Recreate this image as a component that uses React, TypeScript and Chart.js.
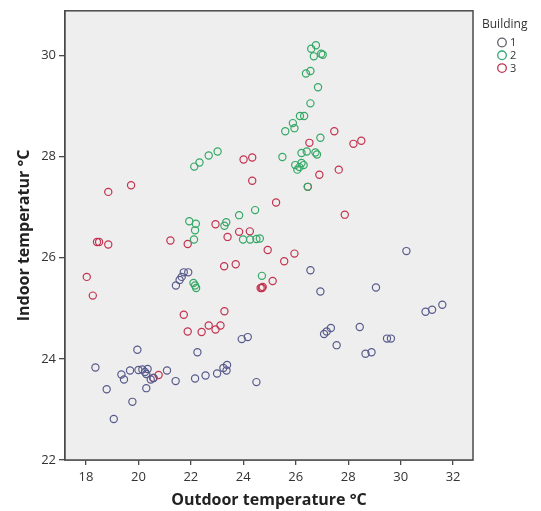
import React, { useEffect, useRef } from "react";
import { Chart, registerables } from "chart.js";

Chart.register(...registerables);

// Building 1
const building1X = [
  21.73, 21.65, 21.57, 21.43, 21.9, 26.56, 26.94, 30.22, 29.06, 31.59, 31.2, 30.95,
  28.44, 27.34, 27.18, 27.08, 27.56, 28.66, 28.89, 29.48, 29.63, 23.94, 24.17, 22.25,
  24.5, 22.16, 22.56, 23.0, 23.24, 23.38, 23.36, 21.42, 21.09, 19.96, 18.36, 19.35,
  19.45, 19.68, 20.0, 20.15, 20.25, 20.35, 20.3, 18.79, 19.77, 19.06, 20.3, 20.47, 20.58,
];
const building1Y = [
  25.71, 25.62, 25.56, 25.45, 25.71, 25.75, 25.33, 26.13, 25.41, 25.07, 24.97, 24.93,
  24.63, 24.61, 24.54, 24.49, 24.27, 24.1, 24.13, 24.4, 24.4, 24.39, 24.43, 24.13,
  23.54, 23.61, 23.67, 23.71, 23.82, 23.88, 23.77, 23.56, 23.77, 24.18, 23.83, 23.69,
  23.59, 23.77, 23.78, 23.79, 23.74, 23.8, 23.7, 23.4, 23.15, 22.81, 23.42, 23.59, 23.62,
];

// Building 2
const building2X = [
  26.59, 26.77, 26.69, 26.97, 27.03, 26.39, 26.56, 26.85, 26.56, 26.16, 26.32, 25.89,
  25.95, 25.6, 26.94, 25.49, 26.22, 26.42, 26.75, 26.81, 25.98, 26.06, 26.22, 26.3,
  26.14, 26.46, 22.13, 22.33, 22.68, 23.02, 21.94, 22.19, 22.16, 22.12, 23.28, 23.35,
  23.84, 24.45, 23.99, 24.26, 24.5, 24.63, 22.1, 22.16, 22.2, 24.71,
];
const building2Y = [
  30.13, 30.2, 29.98, 30.03, 30.01, 29.64, 29.69, 29.37, 29.05, 28.8, 28.8, 28.66,
  28.56, 28.5, 28.37, 27.99, 28.07, 28.1, 28.08, 28.04, 27.83, 27.74, 27.87, 27.83,
  27.79, 27.4, 27.8, 27.88, 28.02, 28.1, 26.72, 26.67, 26.54, 26.36, 26.63, 26.7,
  26.84, 26.94, 26.36, 26.36, 26.37, 26.38, 25.5, 25.45, 25.4, 25.64,
];

// Building 3
const building3X = [
  18.85, 19.72, 18.42, 18.5, 18.85, 18.03, 18.26, 21.22, 21.88, 22.94, 23.4, 23.84,
  24.25, 24.01, 24.34, 24.34, 25.25, 24.93, 25.95, 25.56, 23.27, 23.71, 25.12, 24.66,
  24.71, 24.74, 21.73, 23.28, 21.88, 22.41, 22.68, 22.94, 23.13, 20.56, 20.77, 27.47,
  28.2, 28.5, 26.52, 26.9, 27.64, 26.46, 27.87,
];
const building3Y = [
  27.3, 27.43, 26.31, 26.31, 26.26, 25.62, 25.25, 26.34, 26.27, 26.66, 26.41, 26.51,
  26.52, 27.94, 27.98, 27.52, 27.09, 26.15, 26.08, 25.93, 25.83, 25.87, 25.54, 25.4,
  25.4, 25.42, 24.87, 24.94, 24.54, 24.53, 24.66, 24.58, 24.66, 23.62, 23.68, 28.5,
  28.25, 28.31, 28.27, 27.64, 27.74, 27.4, 26.85,
];

const seriesLabels = ["1", "2", "3"];
const seriesColors = ["#585b8c", "#35a866", "#c4324f"];
const legendColors = ["#5f6068", "#35a875", "#c4324f"];
const xTicks = [18, 20, 22, 24, 26, 28, 30, 32];
const yTicks = [22, 24, 26, 28, 30];
const legendTitle = "Building";

const toPoints = (xs: number[], ys: number[]) => xs.map((x, i) => ({ x, y: ys[i] }));

const framePlugin = {
  id: "frame",
  beforeDatasetsDraw(chart: any) {
    const { ctx, chartArea } = chart;
    ctx.save();
    ctx.fillStyle = "#eeeeee";
    ctx.fillRect(chartArea.left, chartArea.top, chartArea.right - chartArea.left, chartArea.bottom - chartArea.top);
    ctx.restore();
  },
  afterDatasetsDraw(chart: any) {
    const { ctx, chartArea } = chart;
    ctx.save();
    ctx.strokeStyle = "#4a4a4a";
    ctx.lineWidth = 1.5;
    ctx.strokeRect(chartArea.left, chartArea.top, chartArea.right - chartArea.left, chartArea.bottom - chartArea.top);
    ctx.restore();
  },
  afterDraw(chart: any) {
    const { ctx, chartArea } = chart;
    const x0 = chartArea.right + 9;
    ctx.save();
    ctx.font = "12px 'Open Sans', sans-serif";
    ctx.fillStyle = "#333333";
    ctx.textAlign = "left";
    ctx.textBaseline = "middle";
    ctx.fillText(legendTitle, x0, 25);
    chart.data.datasets.forEach((ds: any, i: number) => {
      const y = 42.5 + i * 12.8;
      ctx.beginPath();
      ctx.strokeStyle = legendColors[i];
      ctx.lineWidth = 1.3;
      ctx.arc(x0 + 20, y, 4.3, 0, Math.PI * 2);
      ctx.stroke();
      ctx.fillStyle = "#333333";
      ctx.font = "11px 'Open Sans', sans-serif";
      ctx.fillText(ds.label, x0 + 28, y + 0.5);
    });
    ctx.restore();
  },
};

export default function App() {
  const canvasRef = useRef<HTMLCanvasElement | null>(null);

  useEffect(() => {
    if (!canvasRef.current) return;
    const datasets = [
      toPoints(building1X, building1Y),
      toPoints(building2X, building2Y),
      toPoints(building3X, building3Y),
    ].map((data, i) => ({
      label: seriesLabels[i],
      data,
      showLine: false,
      pointStyle: "circle",
      pointRadius: 3.6,
      pointHoverRadius: 3.6,
      pointBorderWidth: 1.2,
      borderColor: seriesColors[i],
      backgroundColor: "rgba(0,0,0,0)",
      pointBackgroundColor: "rgba(0,0,0,0)",
    }));

    const tickFont = { family: "'Open Sans', sans-serif", size: 13 };
    const titleFont = { family: "'Open Sans', sans-serif", size: 16, weight: "bold" as const };

    const chart = new Chart(canvasRef.current, {
      type: "scatter",
      data: { datasets },
      plugins: [framePlugin],
      options: {
        animation: false,
        responsive: true,
        maintainAspectRatio: false,
        layout: { padding: { left: 0, right: 68, top: 10, bottom: 0 } },
        plugins: { legend: { display: false }, tooltip: { enabled: false } },
        scales: {
          x: {
            type: "linear",
            min: 17.2,
            max: 32.76,
            afterBuildTicks: (s: any) => {
              s.ticks = xTicks.map((v) => ({ value: v }));
            },
            afterFit: (s: any) => {
              s.height = 51;
            },
            grid: { drawOnChartArea: false, drawTicks: true, tickLength: 5, color: "#4a4a4a", lineWidth: 1.3 },
            border: { display: true, color: "#4a4a4a", width: 1.5 },
            ticks: { font: tickFont, color: "#333333", padding: 4, maxRotation: 0, autoSkip: false },
            title: { display: true, text: "Outdoor temperature °C", font: titleFont, color: "#222222", padding: { top: 0, bottom: 1 } },
          },
          y: {
            type: "linear",
            min: 22,
            max: 30.88,
            afterBuildTicks: (s: any) => {
              s.ticks = yTicks.map((v) => ({ value: v }));
            },
            afterFit: (s: any) => {
              s.width = 65;
            },
            grid: { drawOnChartArea: false, drawTicks: true, tickLength: 6, color: "#4a4a4a", lineWidth: 1.3 },
            border: { display: true, color: "#4a4a4a", width: 1.5 },
            ticks: { font: tickFont, color: "#333333", padding: 3, autoSkip: false },
            title: { display: true, text: "Indoor temperatur °C", font: titleFont, color: "#222222", padding: { top: 15, bottom: 0 } },
          },
        },
      },
    });
    return () => chart.destroy();
  }, []);

  return (
    <div style={{ position: "fixed", left: 0, top: 0, width: 541, height: 511, background: "#ffffff" }}>
      <canvas ref={canvasRef} />
    </div>
  );
}
